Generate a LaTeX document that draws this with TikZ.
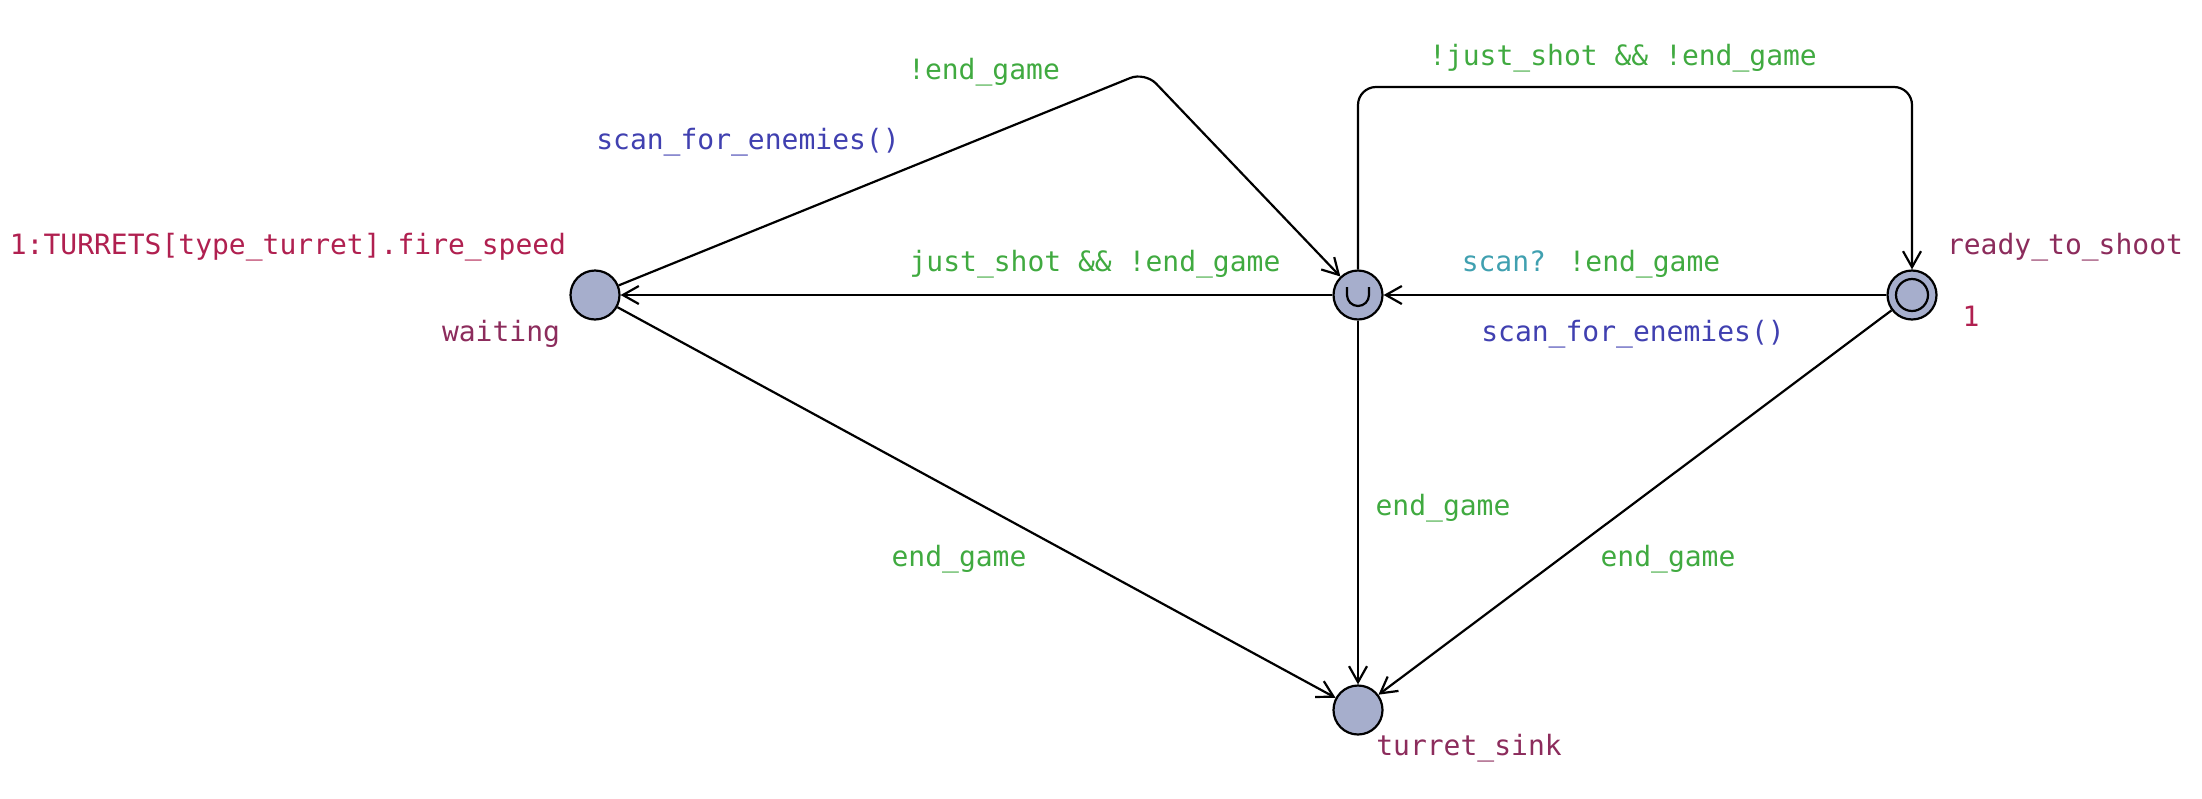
\documentclass[tikz,border=0pt]{standalone}
\usepackage{fontspec}
\setmainfont{DejaVu Sans Mono}
\usetikzlibrary{arrows.meta}
\definecolor{guardc}{RGB}{64,170,64}
\definecolor{updc}{RGB}{64,64,176}
\definecolor{syncc}{RGB}{64,160,176}
\definecolor{namec}{RGB}{140,44,92}
\definecolor{ratec}{RGB}{176,32,80}
\definecolor{locfill}{RGB}{166,174,204}
\tikzset{
  loc/.style={circle, draw=black, line width=2.2pt, fill=locfill, minimum size=49pt, inner sep=0pt},
  edge/.style={draw=black, line width=2.2pt, -{Straight Barb[length=16pt,width=18pt,line width=2.2pt]}},
  lbl/.style={font=\fontsize{28}{34}\selectfont, inner sep=0pt},
  guard/.style={lbl, text=guardc},
  upd/.style={lbl, text=updc},
  nm/.style={lbl, text=namec},
  rate/.style={lbl, text=ratec}
}
\begin{document}
\begin{tikzpicture}[x=1pt,y=-1pt]
\useasboundingbox (0,0) rectangle (2202,798);
% locations
\node[loc] (waiting) at (595,295) {};
\node[loc] (mid) at (1358,295) {};
\node[loc] (ready) at (1912,295) {};
\node[loc] (sink) at (1358,710) {};
% committed mark
\draw[line width=2.2pt] ([shift={(-11,-8)}]mid.center) -- ([shift={(-11,0)}]mid.center) arc[start angle=180, end angle=0, radius=11] -- ([shift={(11,-8)}]mid.center);
% initial mark
\draw[line width=2.2pt] (ready.center) circle[radius=16];
% helper coordinates
\coordinate (c1) at (1145,72);
\coordinate (t1) at (1358,87);
\coordinate (t2) at (1912,87);
% edges
\draw[edge, rounded corners=16pt] (waiting) -- (c1) -- (mid);
\draw[edge] (mid) -- (waiting);
\draw[edge, rounded corners=18pt] (mid) -- (t1) -- (t2) -- (ready);
\draw[edge] (ready) -- (mid);
\draw[edge] (waiting) -- (sink);
\draw[edge] (mid) -- (sink);
\draw[edge] (ready) -- (sink);
% edge labels
\node[guard] (l1) at (984,72) {!end\_game};
\node[upd] (l2) at (748,142) {scan\_for\_enemies()};
\node[guard] (l3) at (1095,264) {just\_shot \&\& !end\_game};
\node[guard] (l4) at (1623,58) {!just\_shot \&\& !end\_game};
\node[guard] (l5) at (1591,264) {\textcolor{syncc}{scan?} !end\_game};
\node[upd] (l6) at (1633,334) {scan\_for\_enemies()};
\node[guard] (l7) at (959,559) {end\_game};
\node[guard] (l8) at (1443,508) {end\_game};
\node[guard] (l9) at (1668,559) {end\_game};
% location labels
\node[rate] (r1) at (288,247) {1:TURRETS[type\_turret].fire\_speed};
\node[nm] (n1) at (501,334) {waiting};
\node[nm] (n2) at (2065,247) {ready\_to\_shoot};
\node[rate] (r2) at (1971,316) {1};
\node[nm] (n3) at (1469,748) {turret\_sink};
\end{tikzpicture}
\end{document}
